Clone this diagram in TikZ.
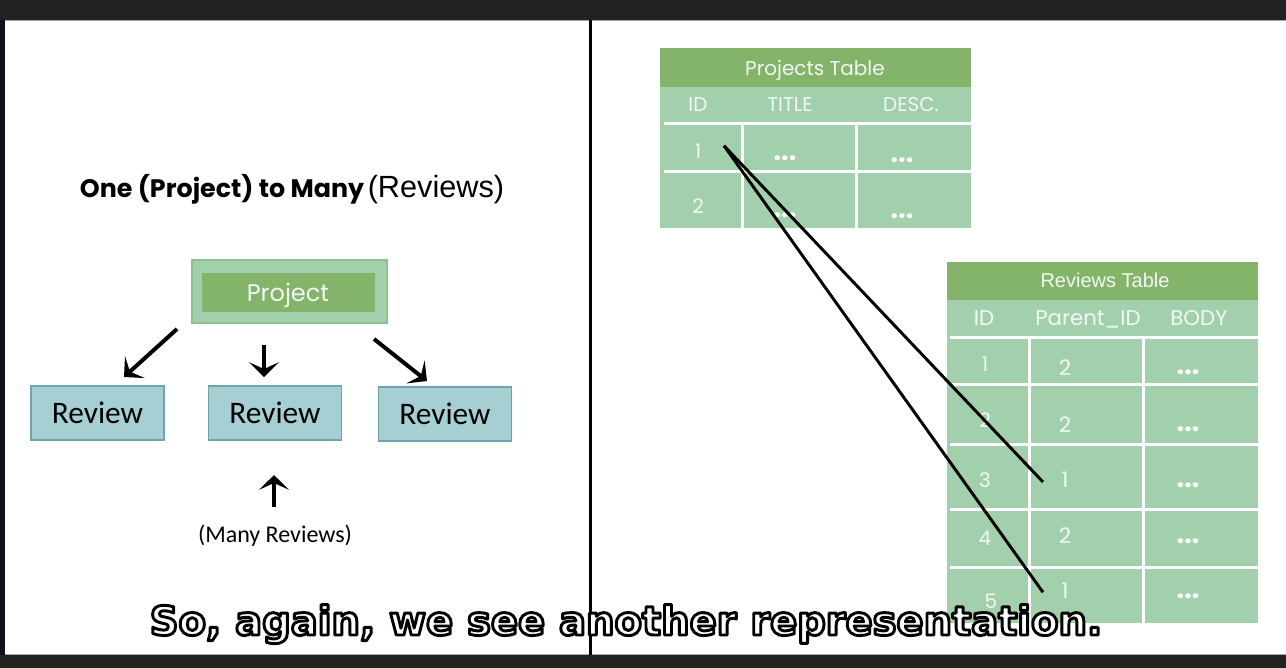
\documentclass[tikz,border=0pt]{standalone}
\usepackage{fontspec}
\setmainfont{Poppins}
\newfontfamily\carlitofont{Carlito}
\newfontfamily\arialfont{Liberation Sans}
\newfontfamily\capfont{DejaVu Sans}
\usetikzlibrary{arrows.meta}
\definecolor{framegray}{HTML}{222222}
\definecolor{stripnavy}{HTML}{120F1C}
\definecolor{headgreen}{HTML}{84B46A}
\definecolor{cellgreen}{HTML}{A2CFAC}
\definecolor{edgegreen}{HTML}{8CC08F}
\definecolor{revfill}{HTML}{A5CFD2}
\definecolor{revedge}{HTML}{6FA5AA}
\definecolor{celltext}{HTML}{F2F8F2}
% outlined caption text (fill + stroke render mode)
\newcommand\outlined[1]{\special{pdf:literal direct 0 G 2.2 w 1 j 2 Tr}#1\special{pdf:literal direct 0 Tr}}
\begin{document}
\begin{tikzpicture}[x=0.75pt,y=-0.75pt,
  cellline/.style={white,line width=2.25pt},
  celltxt/.style={anchor=base,text=celltext,inner sep=0pt,font=\fontsize{15}{17}\selectfont},
  celldots/.style={anchor=base,text=white,inner sep=0pt,font=\bfseries\fontsize{20}{20}\selectfont},
  reviewbox/.style={draw=revedge,fill=revfill,line width=1.2pt,minimum width=99.75pt,minimum height=40.5pt,inner sep=0pt,font=\carlitofont\fontsize{23.5}{25}\selectfont},
  bigarrow/.style={line width=3pt,-{Stealth[length=11pt,width=22pt,inset=5pt]}},
  link/.style={line width=2.2pt},
  captxt/.style={anchor=base,inner sep=0pt,font=\capfont\bfseries\fontsize{30}{34}\selectfont}]
\useasboundingbox (0,0) rectangle (1286,668);
% screen frame
\fill[white] (0,0) rectangle (1286,668);
\fill[framegray] (0,0) rectangle (1286,20);
\fill[framegray] (0,655) rectangle (1286,668);
\fill[stripnavy] (0,20) rectangle (5,655);
\draw[gray!70,line width=0.75pt] (5,20.5) -- (1286,20.5);
\draw[gray!70,line width=0.75pt] (5,654.5) -- (1286,654.5);
\draw[line width=2.25pt] (590.5,20) -- (590.5,655);

% left half: one to many
\node[anchor=base,inner sep=0pt] (title) at (292,197)
  {{\bfseries\fontsize{19}{22}\selectfont One (Project) to Many} {\arialfont\fontsize{23}{26}\selectfont (Reviews)}};
\node[draw=edgegreen,fill=cellgreen,line width=1pt,minimum width=146.25pt,minimum height=47.25pt] (proj) at (289.5,291.5) {};
\node[fill=headgreen,minimum width=129.75pt,minimum height=29.25pt,inner sep=0pt] (projin) at (288.5,292.5) {};
\node[anchor=base,inner sep=0pt,text=celltext,font=\fontsize{18}{20}\selectfont] (projlbl) at (288,301) {Project};
\node[reviewbox] (rev1) at (97.5,413) {Review};
\node[reviewbox] (rev2) at (275,413) {Review};
\node[reviewbox] (rev3) at (445,414) {Review};
\coordinate (a1) at (177,329); \coordinate (b1) at (124,377);
\coordinate (a2) at (264,345); \coordinate (b2) at (264,377);
\coordinate (a3) at (374,339); \coordinate (b3) at (427,381);
\coordinate (a4) at (274,507); \coordinate (b4) at (274,475);
\foreach \i in {1,2,3,4}
  \draw[bigarrow] (a\i) -- (b\i);
\node[anchor=base,inner sep=0pt,font=\carlitofont\fontsize{18}{20}\selectfont] (many) at (275,542) {(Many Reviews)};

% right half: projects table
\fill[headgreen] (660,48) rectangle (971,87);
\fill[cellgreen] (660,87) rectangle (971,228);
\node[anchor=base,inner sep=0pt,text=celltext,font=\fontsize{15}{18}\selectfont] (ptab) at (815,75) {Projects Table};
\foreach \x/\lab in {698/ID,790/TITLE,911/DESC.}
  \node[celltxt] at (\x,111) {\lab};
\draw[cellline] (664,123) -- (971,123);
\draw[cellline] (664,171) -- (971,171);
\draw[cellline] (742,123) -- (742,228);
\draw[cellline] (856,123) -- (856,228);
\node[celltxt] (pid1) at (698,158) {1};
\node[celltxt] (pid2) at (698,213) {2};
\foreach \x/\y in {785/160,902/162,785/217,902/218}
  \node[celldots] at (\x,\y) {...};

% reviews table
\fill[headgreen] (947,262) rectangle (1258,300);
\fill[cellgreen] (947,300) rectangle (1258,623);
\node[anchor=base,inner sep=0pt,text=celltext,font=\arialfont\fontsize{15}{18}\selectfont] (rtab) at (1105,287) {Reviews Table};
\foreach \x/\lab in {984/ID,1088/Parent\_ID,1199/BODY}
  \node[celltxt,font=\fontsize{16}{18}\selectfont] at (\x,325) {\lab};
\foreach \y in {337,384,444,509,567}
  \draw[cellline] (950,\y) -- (1258,\y);
\draw[cellline] (1029,337) -- (1029,623);
\draw[cellline] (1143,337) -- (1143,623);
\foreach \n/\x/\y in {1/985/371,2/985/427,3/985/487,4/985/545,5/991/608}
  \node[celltxt] (rid\n) at (\x,\y) {\n};
\foreach \n/\v/\y in {1/2/375,2/2/432,3/1/487,4/2/543,5/1/598}
  \node[celltxt,font=\fontsize{16}{18}\selectfont] (rpar\n) at (1065,\y) {\v};
\foreach \y in {374,431,487,543,598}
  \node[celldots] at (1188,\y) {...};

% foreign key links
\draw[link] ([xshift=19.5pt,yshift=3.75pt]pid1.center) -- ([xshift=-16.5pt,yshift=-2pt]rpar3.center);
\draw[link] ([xshift=19.5pt,yshift=3.75pt]pid1.center) -- ([xshift=-16.5pt,yshift=-1.5pt]rpar5.center);

% caption
\node[captxt,text=white] (caption) at (626,635) {\outlined{So, again, we see another representation.}};
\end{tikzpicture}
\end{document}
